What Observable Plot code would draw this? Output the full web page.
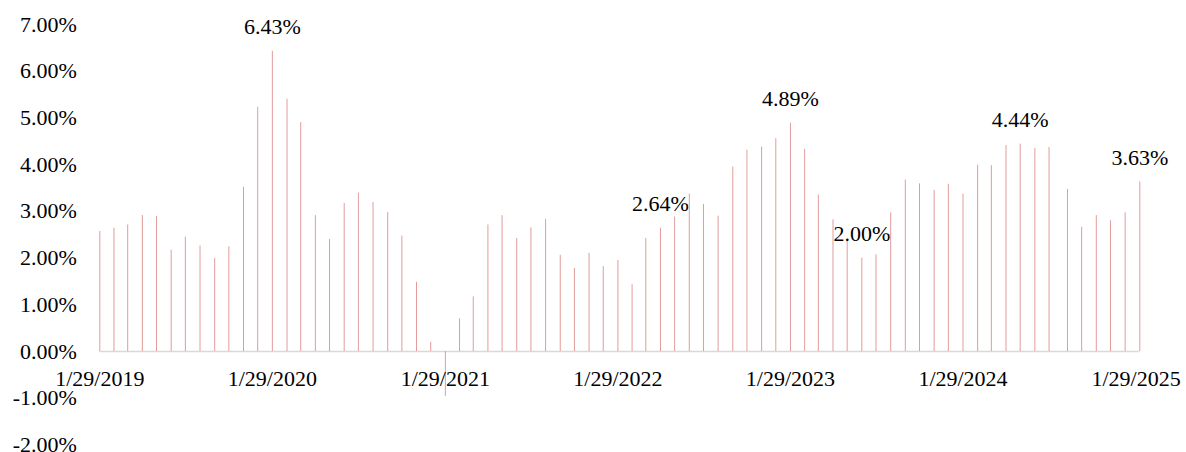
<!DOCTYPE html>
<html>
<head>
<meta charset="utf-8">
<script src="https://cdn.jsdelivr.net/npm/d3@7"></script>
<script src="https://cdn.jsdelivr.net/npm/@observablehq/plot@0.6"></script>
<style>
  body { margin: 0; background: #fff; }
  #chart svg { display: block; }
  #chart svg, #chart svg text { font-family: "Liberation Serif", "Times New Roman", serif !important; }
</style>
</head>
<body>
<div id="chart"></div>
<script>
// Observation dates (monthly)
const dates = [
  "2019-01-29","2019-02-28","2019-03-29","2019-04-29","2019-05-29","2019-06-29",
  "2019-07-29","2019-08-29","2019-09-29","2019-10-29","2019-11-29","2019-12-29",
  "2020-01-29","2020-02-29","2020-03-29","2020-04-29","2020-05-29","2020-06-29",
  "2020-07-29","2020-08-29","2020-09-29","2020-10-29","2020-11-29","2020-12-29",
  "2021-01-29","2021-02-28","2021-03-29","2021-04-29","2021-05-29","2021-06-29",
  "2021-07-29","2021-08-29","2021-09-29","2021-10-29","2021-11-29","2021-12-29",
  "2022-01-29","2022-02-28","2022-03-29","2022-04-29","2022-05-29","2022-06-29",
  "2022-07-29","2022-08-29","2022-09-29","2022-10-29","2022-11-29","2022-12-29",
  "2023-01-29","2023-02-28","2023-03-29","2023-04-29","2023-05-29","2023-06-29",
  "2023-07-29","2023-08-29","2023-09-29","2023-10-29","2023-11-29","2023-12-29",
  "2024-01-29","2024-02-29","2024-03-29","2024-04-29","2024-05-29","2024-06-29",
  "2024-07-29","2024-09-06","2024-10-06","2024-11-06","2024-12-06","2025-01-06",
  "2025-02-06"
];

// Rate, in percent
const values = [
  2.57, 2.64, 2.71, 2.91, 2.89, 2.17, 2.45, 2.26, 1.99, 2.24, 3.52, 5.23,
  6.43, 5.40, 4.90, 2.91, 2.40, 3.17, 3.39, 3.19, 2.98, 2.47, 1.48, 0.20,
  -0.96, 0.70, 1.17, 2.71, 2.91, 2.42, 2.65, 2.83, 2.06, 1.78, 2.10, 1.82,
  1.95, 1.43, 2.42, 2.64, 2.88, 3.37, 3.15, 2.90, 3.95, 4.31, 4.38, 4.56,
  4.89, 4.33, 3.35, 2.82, 2.37, 2.00, 2.07, 2.97, 3.67, 3.59, 3.45, 3.58,
  3.37, 3.99, 3.98, 4.41, 4.44, 4.35, 4.37, 3.47, 2.66, 2.91, 2.80, 2.97,
  3.63
];

// Points that carry a value label
const labelDates = ["2020-01-29", "2022-04-29", "2023-01-29", "2023-06-29", "2024-05-29", "2025-02-06"];

const xTickLabels = ["1/29/2019", "1/29/2020", "1/29/2021", "1/29/2022", "1/29/2023", "1/29/2024", "1/29/2025"];
const yTicks = [-2, -1, 0, 1, 2, 3, 4, 5, 6, 7];

const parseISO = d3.utcParse("%Y-%m-%d");
const parseMDY = d3.utcParse("%m/%d/%Y");

const rows = dates.map((d, i) => ({date: parseISO(d), value: values[i], key: d}));
const labeled = rows.filter(r => labelDates.includes(r.key));

const barColor = "#e39c9c";
const pct = v => v.toFixed(2) + "%";

const chart = Plot.plot({
  width: 1186,
  height: 452,
  marginLeft: 99.3,
  marginRight: 46.7,
  marginTop: 24.1,
  marginBottom: 7.6,
  style: {fontSize: "22px", color: "#000", background: "#fff", overflow: "visible"},
  x: {type: "utc", domain: [rows[0].date, rows[rows.length - 1].date], axis: null},
  y: {domain: [-2, 7], axis: null},
  marks: [
    Plot.ruleY([0], {x1: rows[0].date, x2: rows[rows.length - 1].date, stroke: "#d9d9d9", strokeWidth: 1.7}),
    Plot.ruleX(rows, {x: "date", y1: () => 0, y2: "value", stroke: barColor, strokeWidth: 1}),
    Plot.axisY({ticks: yTicks, tickSize: 0, tickPadding: 23, tickFormat: pct, fontSize: 22, label: null}),
    Plot.text(xTickLabels, {x: s => parseMDY(s), y: () => 0, text: s => s, dy: 27, fontSize: 22}),
    Plot.text(labeled, {x: "date", y: "value", text: r => pct(r.value), dy: -24, fontSize: 22})
  ]
});

document.getElementById("chart").appendChild(chart);
</script>
</body>
</html>
